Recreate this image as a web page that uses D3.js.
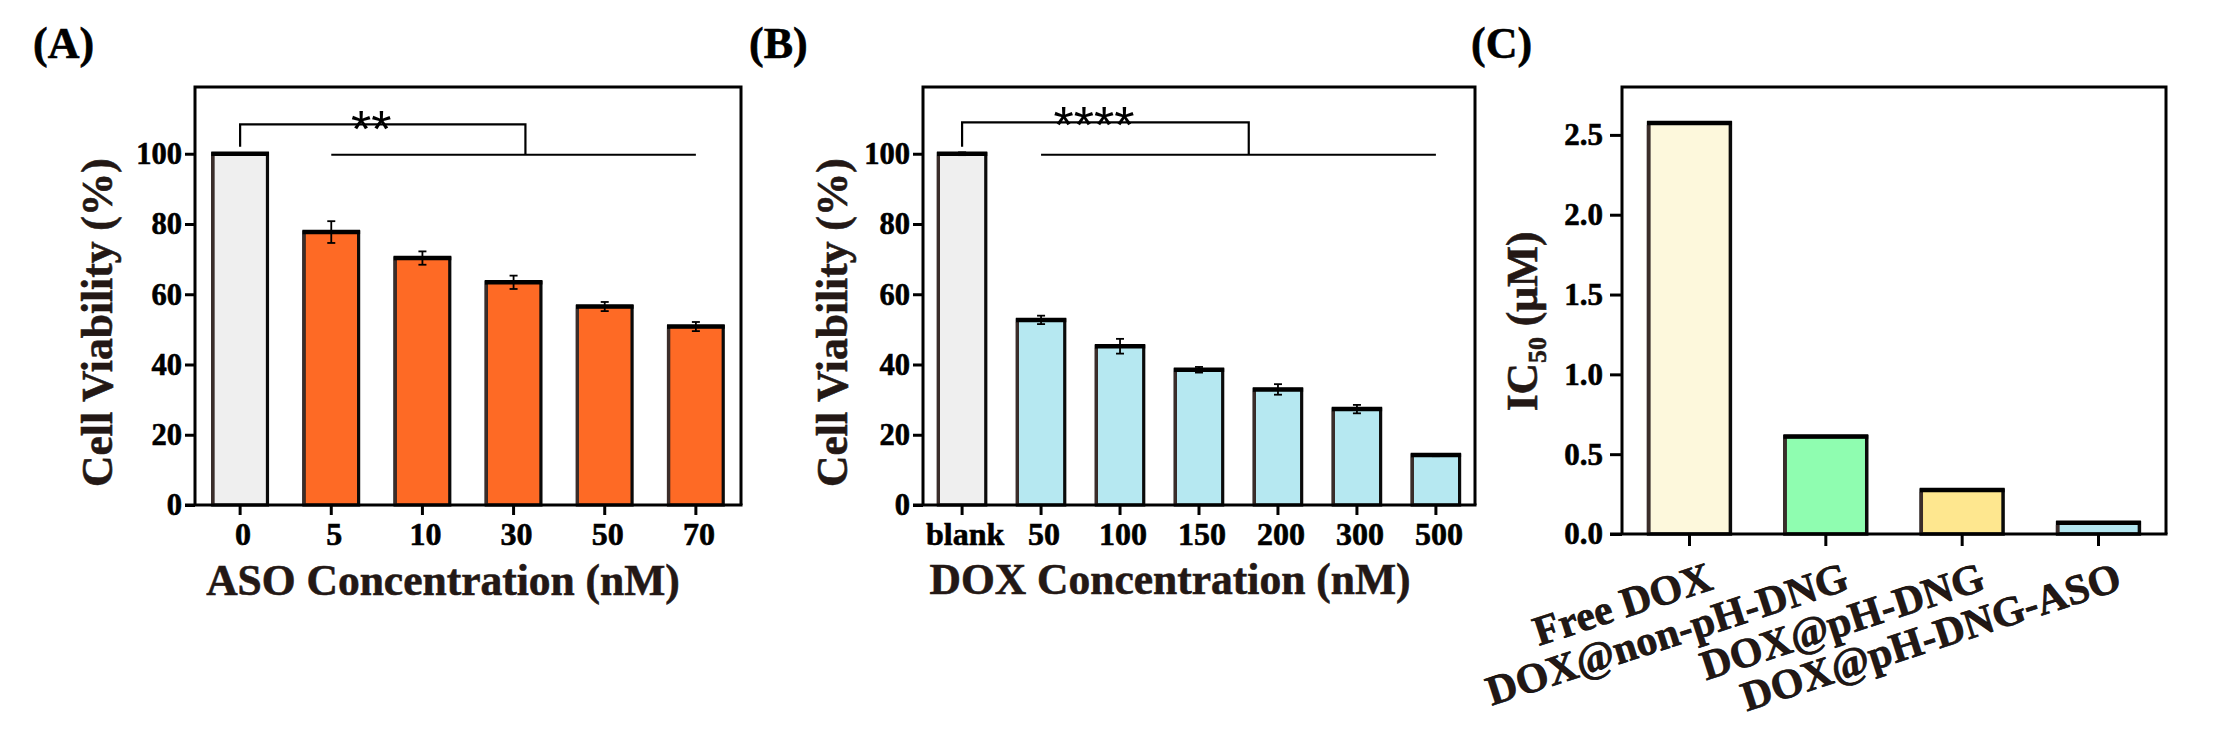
<!DOCTYPE html>
<html>
<head>
<meta charset="utf-8">
<script src="https://cdn.jsdelivr.net/npm/d3@7"></script>
<style>
  body { margin: 0; background: #fff; }
  svg { display: block; }
  text { font-family: "Liberation Serif", "Times New Roman", serif; font-weight: bold; }
  .heavy { stroke: currentColor; stroke-width: 0.6px; }
</style>
</head>
<body>
<svg id="chart"></svg>
<script>
// ---- data ----
var asoCats = ["0", "5", "10", "30", "50", "70"]
var asoVals = [100, 77.7, 70.3, 63.4, 56.5, 50.8]
var asoErr = [0, 3.1, 1.9, 1.9, 1.3, 1.3]

var doxCats = ["blank", "50", "100", "150", "200", "300", "500"]
var doxVals = [100, 52.7, 45.2, 38.5, 32.9, 27.3, 14.2]
var doxErr = [0.4, 1.2, 2.1, 0.8, 1.5, 1.2, 0.3]

var icCats = ["Free DOX", "DOX@non-pH-DNG", "DOX@pH-DNG", "DOX@pH-DNG-ASO"]
var icVals = [2.575, 0.61, 0.275, 0.07]

var viabTicks = [0, 20, 40, 60, 80, 100]
var icTicks = [0, 0.5, 1.0, 1.5, 2.0, 2.5]

// colours
var grey = "#efefef", orange = "#fe6a25", cyan = "#b6e8f1"
var icColors = ["#fdf8dc", "#8ffdb0", "#fee78f", "#b3e6f0"]
var titleColor = "#231815"

var svg = d3.select("#chart").attr("width", 2215).attr("height", 747)

var drawPanel = function(p)
{
    var g = svg.append("g")

    var x = d3.scaleBand()
        .domain(p.cats)
        .range([p.left, p.right])
        .paddingInner(0.4)
        .paddingOuter(0.195)

    var y = d3.scaleLinear()
        .domain([0, p.yMax])
        .range([p.bottom, p.top])

    var rows = p.cats.map(function(c, i) {
        return {cat: c, val: p.vals[i], err: p.errs ? p.errs[i] : 0, color: p.colors[i]}
    })

    // bars
    var bars = g.selectAll(".bar").data(rows).enter().append("g").attr("class", "bar")

    bars.append("rect")
        .attr("x", function(d) { return x(d.cat) })
        .attr("width", x.bandwidth())
        .attr("y", function(d) { return y(d.val) })
        .attr("height", function(d) { return y(0) - y(d.val) })
        .attr("fill", function(d) { return d.color })
        .attr("stroke", "#0a0a0a")
        .attr("stroke-width", p.barStroke)

    // brownish left edge, heavier top edge
    bars.append("line")
        .attr("x1", function(d) { return x(d.cat) })
        .attr("x2", function(d) { return x(d.cat) })
        .attr("y1", function(d) { return y(d.val) + 2 })
        .attr("y2", y(0))
        .attr("stroke", "#3b2d2a")
        .attr("stroke-width", p.barStroke)

    bars.append("line")
        .attr("x1", function(d) { return x(d.cat) - 1.5 })
        .attr("x2", function(d) { return x(d.cat) + x.bandwidth() + 1.5 })
        .attr("y1", function(d) { return y(d.val) })
        .attr("y2", function(d) { return y(d.val) })
        .attr("stroke", "#000")
        .attr("stroke-width", 4.5)

    // error bars
    var eb = g.selectAll(".err").data(rows.filter(function(d) { return d.err > 0 }))
        .enter().append("g").attr("class", "err")
        .attr("stroke", "#000").attr("stroke-width", 1.8)

    var cx = function(d) { return x(d.cat) + x.bandwidth() / 2 }
    eb.append("line")
        .attr("x1", cx).attr("x2", cx)
        .attr("y1", function(d) { return y(d.val - d.err) })
        .attr("y2", function(d) { return y(d.val + d.err) })
    eb.append("line")
        .attr("x1", function(d) { return cx(d) - 4 }).attr("x2", function(d) { return cx(d) + 4 })
        .attr("y1", function(d) { return y(d.val + d.err) })
        .attr("y2", function(d) { return y(d.val + d.err) })
    eb.append("line")
        .attr("x1", function(d) { return cx(d) - 4 }).attr("x2", function(d) { return cx(d) + 4 })
        .attr("y1", function(d) { return y(d.val - d.err) })
        .attr("y2", function(d) { return y(d.val - d.err) })

    // frame
    g.append("path")
        .attr("d", "M" + p.left + "," + p.bottom + "V" + p.top + "H" + p.right + "V" + p.bottom)
        .attr("fill", "none")
        .attr("stroke", "#000")
        .attr("stroke-width", 3)
    g.append("line")
        .attr("x1", p.left - p.tick).attr("x2", p.right + 1.5)
        .attr("y1", p.bottom).attr("y2", p.bottom)
        .attr("stroke", "#000").attr("stroke-width", 3)

    // y axis
    var yAxis = g.append("g")
        .attr("transform", "translate(" + p.left + ",0)")
        .call(d3.axisLeft(y).tickValues(p.yTicks).tickSize(p.tick).tickPadding(p.yPad).tickFormat(p.yFmt))
    yAxis.select(".domain").remove()
    yAxis.selectAll("line").attr("stroke", "#000").attr("stroke-width", 3)
    yAxis.selectAll("text")
        .attr("fill", "#000")
        .attr("class", "heavy")
        .style("font-size", p.yFont + "px")

    // x axis
    var xAxis = g.append("g")
        .attr("transform", "translate(0," + p.bottom + ")")
        .call(d3.axisBottom(x).tickSize(p.tick).tickSizeOuter(0))
    xAxis.select(".domain").remove()
    xAxis.selectAll("line").attr("stroke", "#000").attr("stroke-width", 3)
    var xt = xAxis.selectAll("text").attr("fill", "#000").attr("class", "heavy")
    if (p.rotate) {
        xt.attr("x", 0).attr("y", 0).attr("dy", null)
          .attr("text-anchor", "end")
          .attr("fill", titleColor)
          .attr("transform", "translate(25,55) rotate(-18)")
          .style("font-size", "42px")
    } else {
        xt.attr("y", 40).attr("dy", 0).attr("dx", 3)
          .style("font-size", "32px")
    }

    // significance bracket: control vs all treated groups
    if (p.stars) {
        var c0 = x(p.cats[0]) + x.bandwidth() / 2
        var c1 = x(p.cats[1]) + x.bandwidth() / 2
        var cn = x(p.cats[p.cats.length - 1]) + x.bandwidth() / 2
        var mid = (c1 + cn) / 2 + 0.13 * x.step()
        var low = y(100) + 1
        var br = g.append("g").attr("stroke", "#000").attr("stroke-width", 2.2).attr("fill", "none")
        br.append("path")
            .attr("d", "M" + c0 + "," + (y(100) - 7) + "V" + p.brY + "H" + mid + "V" + low)
        br.append("line")
            .attr("x1", c1).attr("x2", cn).attr("y1", low).attr("y2", low)
        g.append("text")
            .attr("x", c0 + 0.46 * (mid - c0))
            .attr("y", p.starY)
            .attr("text-anchor", "middle")
            .style("font-family", "'Liberation Sans', Arial, sans-serif")
            .style("font-weight", "normal")
            .style("font-size", "52px")
            .attr("fill", "#000")
            .text(p.stars)
    }
}

drawPanel({
    cats: asoCats, vals: asoVals, errs: asoErr,
    colors: asoCats.map(function(c, i) { return i == 0 ? grey : orange }),
    left: 195, right: 741, top: 87, bottom: 505, yMax: 119,
    yTicks: viabTicks, yFmt: d3.format("d"), yFont: 30.5, yPad: 3, tick: 10,
    barStroke: 3.2, stars: "**", brY: 124.3, starY: 147
})

drawPanel({
    cats: doxCats, vals: doxVals, errs: doxErr,
    colors: doxCats.map(function(c, i) { return i == 0 ? grey : cyan }),
    left: 923, right: 1475, top: 87, bottom: 505, yMax: 119,
    yTicks: viabTicks, yFmt: d3.format("d"), yFont: 30.5, yPad: 3, tick: 10,
    barStroke: 3.2, stars: "****", brY: 122.3, starY: 143
})

drawPanel({
    cats: icCats, vals: icVals, errs: null,
    colors: icColors,
    left: 1622, right: 2166, top: 87, bottom: 534, yMax: 2.8,
    yTicks: icTicks, yFmt: d3.format(".1f"), yFont: 31, yPad: 7, tick: 12,
    barStroke: 3.5, rotate: true
})

// axis titles
var title = function(txt, x, y, rot) {
    var t = svg.append("text")
        .attr("class", "heavy")
        .attr("text-anchor", "middle")
        .attr("fill", titleColor)
        .style("color", titleColor)
        .style("font-size", "43.5px")
        .attr("transform", "translate(" + x + "," + y + ")" + (rot ? " rotate(-90)" : ""))
    if (typeof txt === "string") t.text(txt)
    else txt(t)
    return t
}

title("Cell Viability (%)", 112, 322.6, true)
title("ASO Concentration (nM)", 443, 595, false)
title("Cell Viability (%)", 847, 322.6, true)
title("DOX Concentration (nM)", 1170, 594, false)
title(function(t) {
    t.append("tspan").text("IC")
    t.append("tspan").attr("dy", 9).style("font-size", "26px").text("50")
    t.append("tspan").attr("dy", -9).text(" (\u03bcM)")
}, 1537, 321.4, true)

// panel letters
var letters = [["(A)", 33], ["(B)", 749], ["(C)", 1471]]
svg.selectAll(".letter").data(letters).enter().append("text")
    .attr("class", "letter heavy")
    .attr("x", function(d) { return d[1] })
    .attr("y", 58)
    .attr("fill", "#000")
    .style("color", "#000")
    .style("font-size", "44px")
    .text(function(d) { return d[0] })
</script>
</body>
</html>
